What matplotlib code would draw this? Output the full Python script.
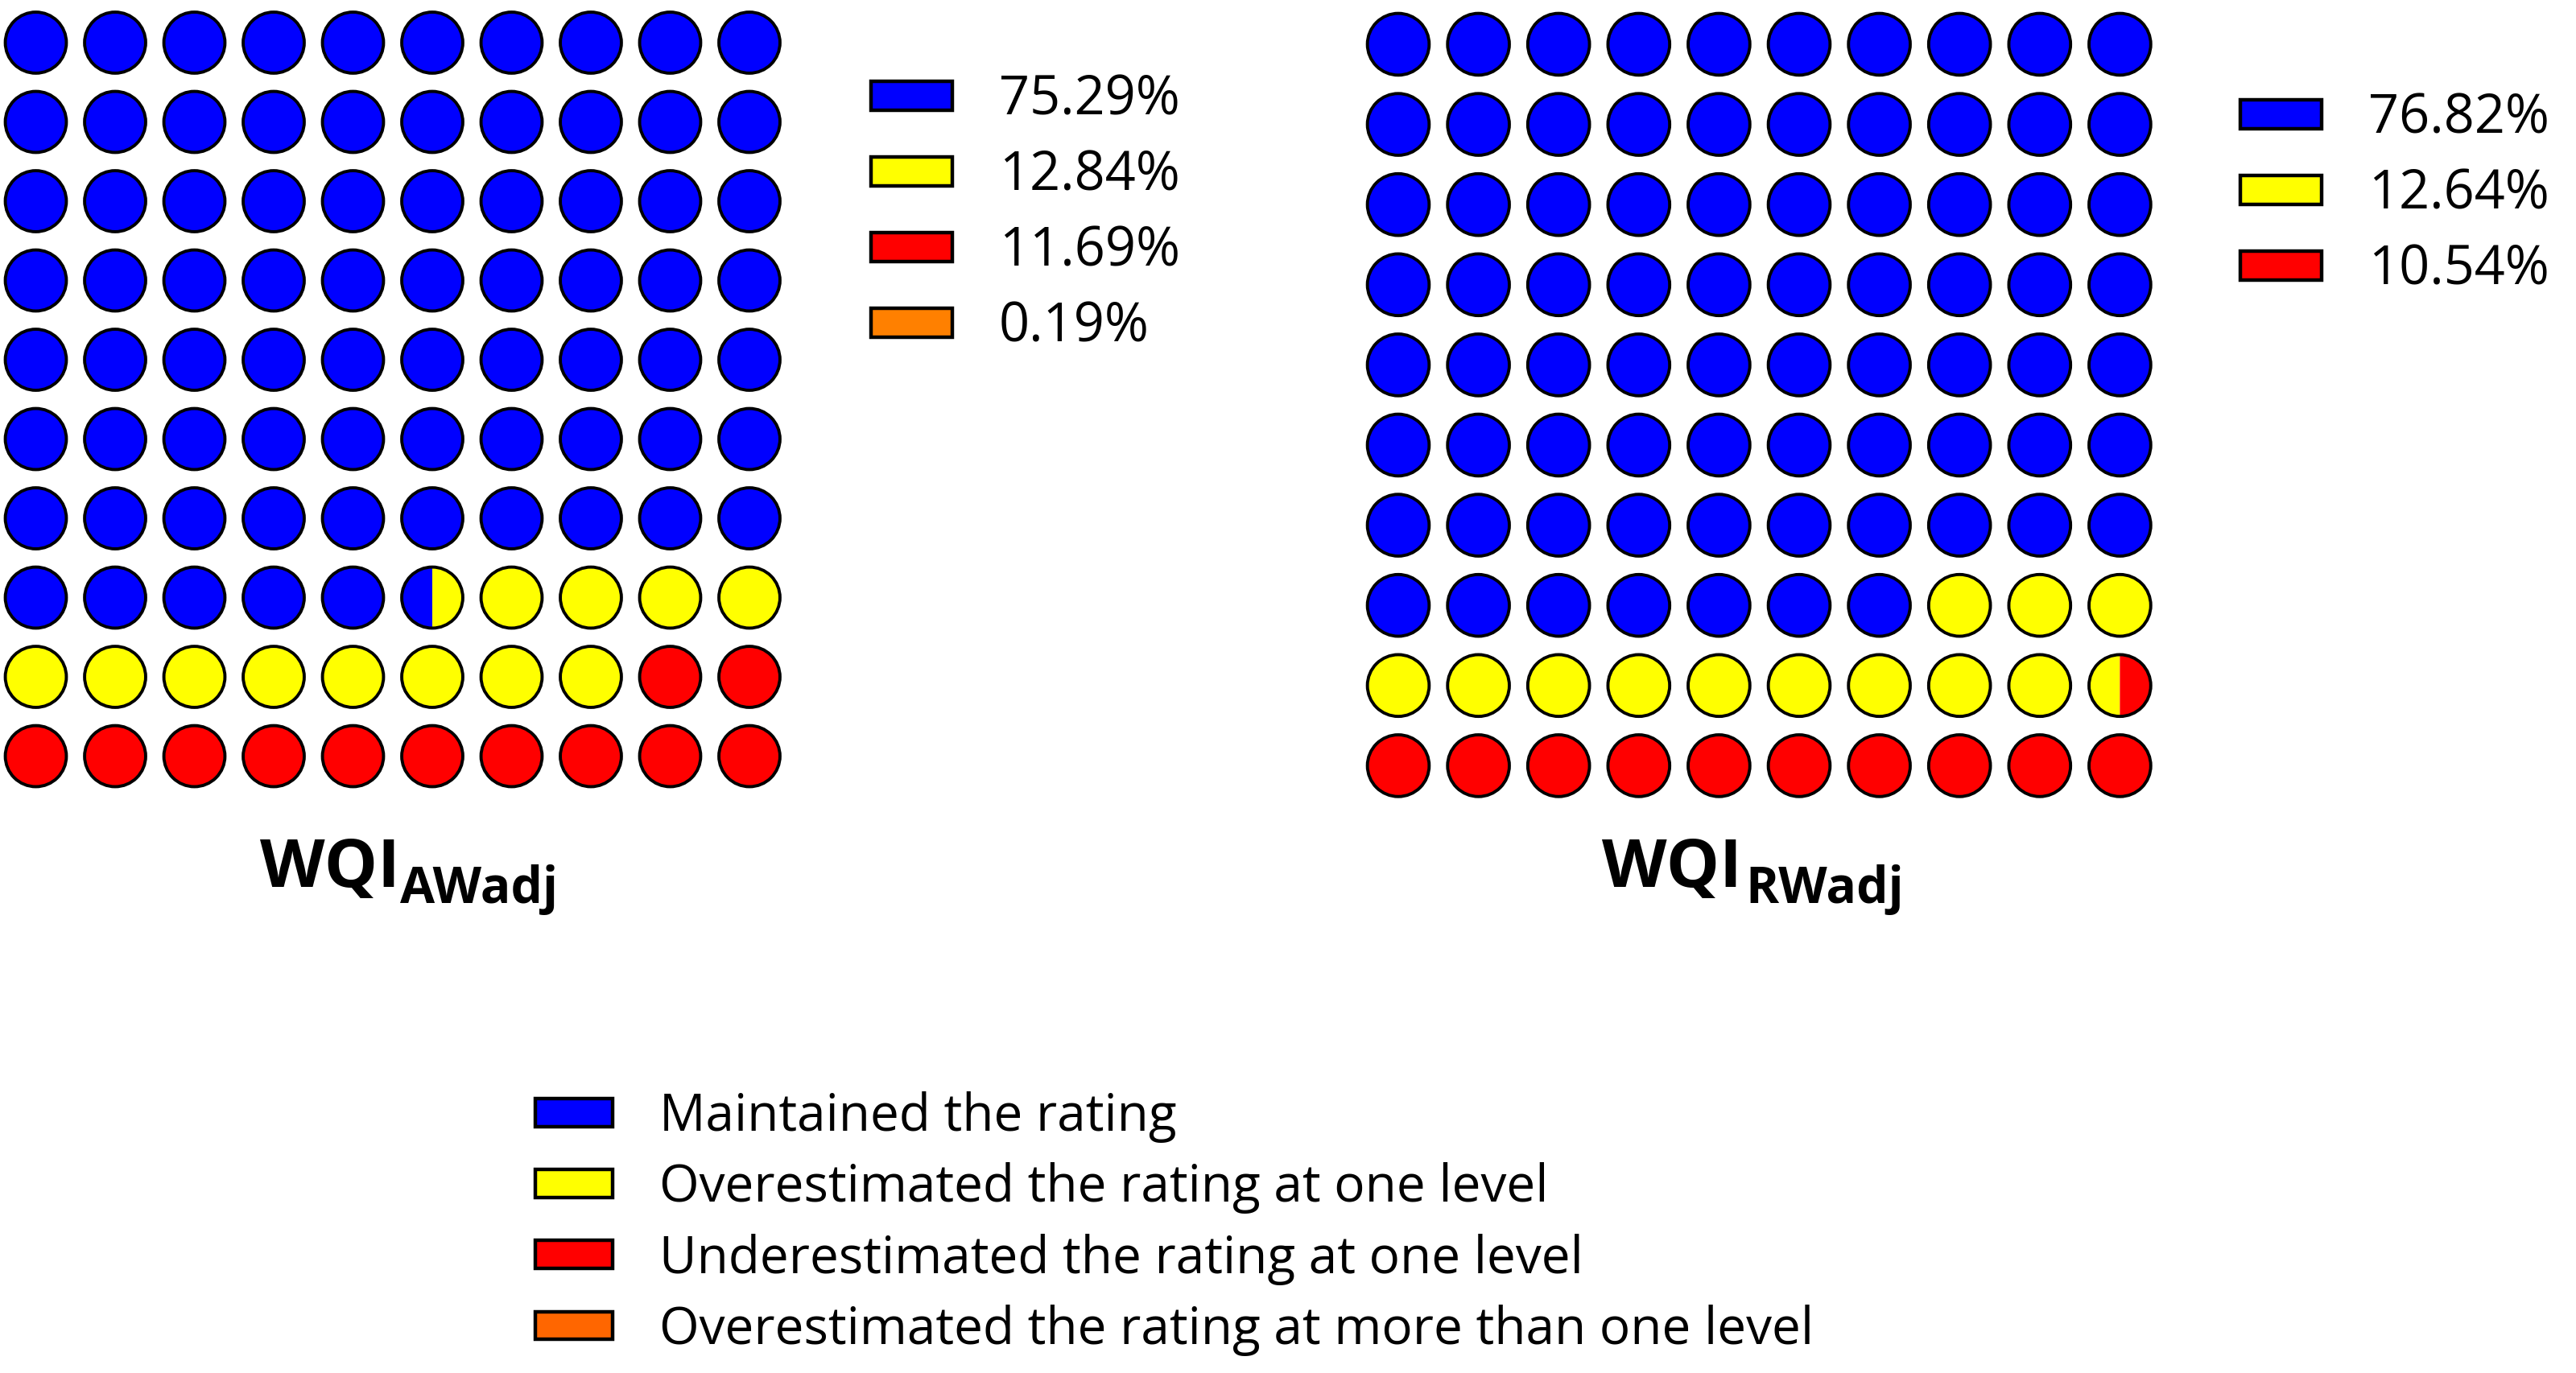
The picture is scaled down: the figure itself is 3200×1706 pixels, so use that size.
import matplotlib
matplotlib.use("Agg")
import matplotlib.pyplot as plt
from matplotlib.patches import Circle, Wedge, Patch
import numpy as np

plt.rcParams['font.family'] = ['Open Sans', 'DejaVu Sans']

# categories shown in the shared legend at the bottom
categories = [
    "Maintained the rating",
    "Overestimated the rating at one level",
    "Underestimated the rating at one level",
    "Overestimated the rating at more than one level",
]
colors = ['#0000ff', '#ffff00', '#ff0000', '#ff8000']
bottom_colors = ['#0000ff', '#ffff00', '#ff0000', '#ff6600']

# WQI_AWadj
aw_pct = [75.29, 12.84, 11.69, 0.19]
aw_cells = [75.5, 12.5, 12.0, 0.0]   # circles (of 100) per category

# WQI_RWadj
rw_pct = [76.82, 12.64, 10.54]
rw_cells = [77.0, 12.5, 10.5]


def waffle(ax, cells, nrows=10, ncols=10, r=0.385):
    bounds = np.concatenate([[0], np.cumsum(cells)])
    for i in range(nrows * ncols):
        row, col = divmod(i, ncols)
        parts = []
        for k in range(len(cells)):
            f = min(bounds[k + 1], i + 1) - max(bounds[k], i)
            if f > 1e-9:
                parts.append((k, f))
        if len(parts) == 1:
            ax.add_patch(Circle((col, row), r, facecolor=colors[parts[0][0]],
                                edgecolor='black', lw=1.4))
            continue
        # split circle: first part on the left, starting from the top
        start = 90.0
        for k, f in parts:
            ax.add_patch(Wedge((col, row), r, start, start + 360 * f,
                               facecolor=colors[k], lw=0))
            start += 360 * f
        ax.add_patch(Circle((col, row), r, facecolor='none',
                            edgecolor='black', lw=1.4))
    ax.set_xlim(-0.5, ncols - 0.5)
    ax.set_ylim(nrows - 0.5, -0.5)
    ax.axis('off')


fig = plt.figure(figsize=(16, 8.5301), dpi=200)

ax1 = fig.add_axes([-0.00148, 0.4204, 0.3078, 0.5774])
waffle(ax1, aw_cells)
ax2 = fig.add_axes([0.52725, 0.41313, 0.31125, 0.58382])
waffle(ax2, rw_cells)

# percentage legends next to each waffle
leg_kw = dict(loc='upper left', frameon=False, fontsize=24, handlelength=1.51,
              handleheight=0.45, handletextpad=0.87, labelspacing=0.40,
              borderpad=0, borderaxespad=0)
fig.legend(handles=[Patch(facecolor=colors[i], edgecolor='black', lw=1.6) for i in range(len(aw_pct))],
           labels=[f"{v:.2f}%" for v in aw_pct],
           bbox_to_anchor=(0.3381, 0.9467), **leg_kw)
fig.legend(handles=[Patch(facecolor=colors[i], edgecolor='black', lw=1.6) for i in range(len(rw_pct))],
           labels=[f"{v:.2f}%" for v in rw_pct],
           bbox_to_anchor=(0.8697, 0.9332), **leg_kw)

# titles: WQI with bold subscript
fig.text(0.1009, 0.3540, "WQI", fontsize=30, fontweight='bold', ha='left', va='baseline')
fig.text(0.1553, 0.3423, "AWadj", fontsize=22.5, fontweight='bold', ha='left', va='baseline')
fig.text(0.6219, 0.3540, "WQI", fontsize=30, fontweight='bold', ha='left', va='baseline')
fig.text(0.6775, 0.3423, "RWadj", fontsize=22.5, fontweight='bold', ha='left', va='baseline')

# shared category legend
fig.legend(handles=[Patch(facecolor=c, edgecolor='black', lw=1.6) for c in bottom_colors],
           labels=categories, loc='upper left', bbox_to_anchor=(0.2078, 0.2052),
           frameon=False, fontsize=23, handlelength=1.51, handleheight=0.46,
           handletextpad=0.9, labelspacing=0.38, borderpad=0, borderaxespad=0)

fig.savefig("out.png", dpi=200, facecolor='white')
